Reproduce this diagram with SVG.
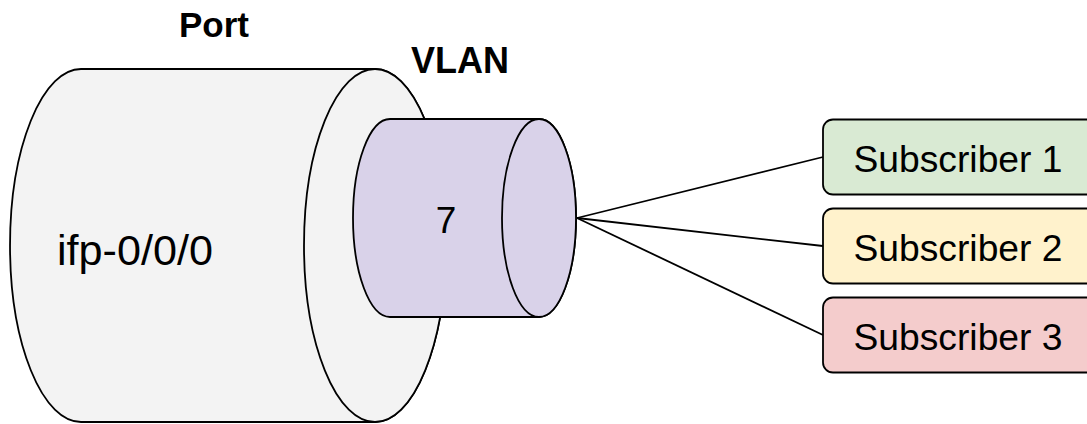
<svg xmlns="http://www.w3.org/2000/svg" width="1087" height="424" viewBox="0 0 1087 424">
<style>
.s{stroke:#000;stroke-width:1.8;stroke-linejoin:round}
.t{font-family:"Liberation Sans",Arial,sans-serif;fill:#000}
.b{font-weight:bold}
.c{stroke:#000;stroke-width:1.8;fill:none}
.sub{font-size:37px;text-anchor:middle}
</style>
<rect width="1087" height="424" fill="#fff"/>
<g id="port">
<path class="s" fill="#f3f3f3" d="M81,69 H375 A71,176.5 0 0 1 375,422 H81 A71,176.5 0 0 1 81,69 Z"/>
<ellipse class="s" fill="#f3f3f3" cx="375" cy="245.5" rx="71" ry="176.5"/>
<text class="t" x="57" y="265" font-size="42" textLength="156" lengthAdjust="spacingAndGlyphs">ifp-0/0/0</text>
<text class="t b" x="214" y="37" font-size="35" text-anchor="middle">Port</text>
</g>
<g id="vlan">
<path class="s" fill="#d9d2e9" d="M390,119 H539 A37,99 0 0 1 539,317 H390 A37,99 0 0 1 390,119 Z"/>
<ellipse class="s" fill="#d9d2e9" cx="539" cy="218" rx="37" ry="99"/>
<text class="t" x="446" y="233" font-size="37" text-anchor="middle">7</text>
<text class="t b" x="460" y="73" font-size="36" text-anchor="middle">VLAN</text>
</g>
<g id="connectors">
<line class="c" x1="577" y1="218" x2="823" y2="157"/>
<line class="c" x1="577" y1="218" x2="823" y2="246"/>
<line class="c" x1="577" y1="218" x2="823" y2="335"/>
</g>
<g id="sub1">
<rect class="s" fill="#d9ead3" x="823" y="119.5" width="280" height="75" rx="10"/>
<text class="t sub" x="958" y="172" textLength="209" lengthAdjust="spacingAndGlyphs">Subscriber 1</text>
</g>
<g id="sub2">
<rect class="s" fill="#fff2cc" x="823" y="208.5" width="280" height="75" rx="10"/>
<text class="t sub" x="958" y="261" textLength="209" lengthAdjust="spacingAndGlyphs">Subscriber 2</text>
</g>
<g id="sub3">
<rect class="s" fill="#f4cccc" x="823" y="297.5" width="280" height="75" rx="10"/>
<text class="t sub" x="958" y="350" textLength="209" lengthAdjust="spacingAndGlyphs">Subscriber 3</text>
</g>
</svg>
